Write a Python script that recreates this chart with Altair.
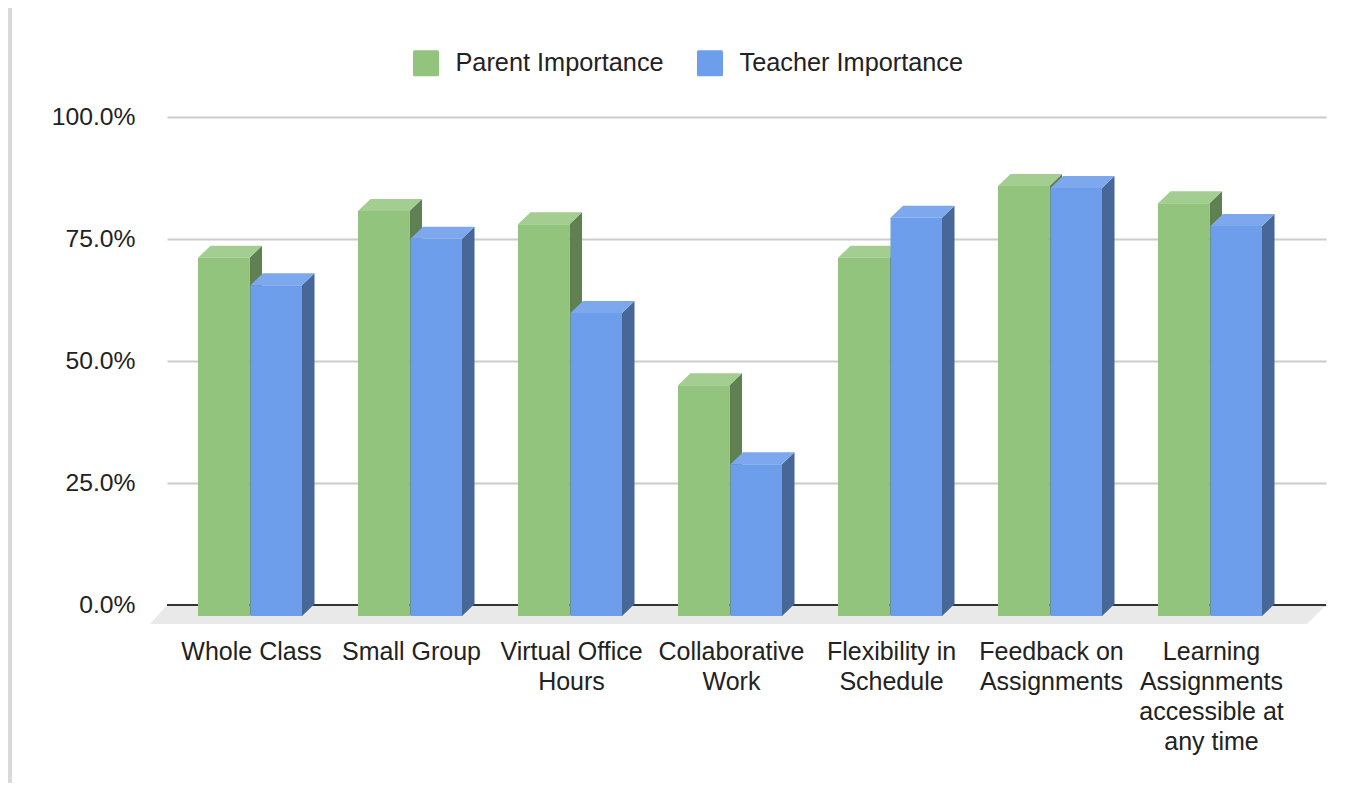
import json
import altair as alt
import pandas as pd

categories = ["Whole Class", "Small Group", "Virtual Office Hours", "Collaborative Work",
              "Flexibility in Schedule", "Feedback on Assignments",
              "Learning Assignments accessible at any time"]
label_lines = [["Whole Class"], ["Small Group"], ["Virtual Office", "Hours"], ["Collaborative", "Work"],
               ["Flexibility in", "Schedule"], ["Feedback on", "Assignments"],
               ["Learning", "Assignments", "accessible at", "any time"]]
parent = [73.4, 83.0, 80.3, 47.3, 73.4, 88.1, 84.6]
teacher = [67.8, 77.3, 62.1, 31.1, 81.6, 87.7, 79.9]
series = ["Parent Importance", "Teacher Importance"]
front_colors = ["#93C47D", "#6D9EEB"]
side_colors = ["#5F8051", "#476799"]
top_colors = ["#A3CD91", "#7DA8EE"]

PW, PH = 1159, 488          # plot size
PX = 160.0                  # pixels per category
PY = PH / 100.0             # pixels per percent
DX = 12.5 / PX              # depth, x
DY = 12 / PY                # depth, y
BW = 51.5 / PX              # bar width
FRONT = -11 / PY            # front plane floor
X0 = -84 / PX
X1 = (PW - 84) / PX

xs = alt.Scale(domain=[X0, X1], nice=False, zero=False)
ys = alt.Scale(domain=[0, 100], nice=False, zero=False)

y_axis = alt.Axis(values=[0, 25, 50, 75, 100], labelExpr="format(datum.value,'.1f')+'%'",
                  domain=False, ticks=False, grid=True, gridColor="#CCCCCC", gridWidth=2,
                  labelFontSize=24.7, labelFont="Liberation Sans", labelColor="#222222", labelPadding=32,
                  title=None)
x_axis = alt.Axis(values=list(range(7)), labelExpr=json.dumps(label_lines) + "[datum.value]",
                  domain=False, ticks=False, grid=False, labelAngle=0, labelAlign="center",
                  labelBaseline="top", labelFontSize=25, labelFont="Liberation Sans",
                  labelColor="#222222", labelLineHeight=30, labelPadding=34.5,
                  labelOverlap=False, labelBound=False, labelFlush=False, title=None)

X = lambda f: alt.X(f, type="quantitative", scale=xs, axis=x_axis)
Y = lambda f: alt.Y(f, type="quantitative", scale=ys, axis=y_axis)

front, side, top = [], [], []
for s, vals in enumerate([parent, teacher]):
    for i, v in enumerate(vals):
        x0 = i - 53 / PX if s == 0 else i - 0.5 / PX
        x1 = x0 + BW
        y1 = FRONT + v
        front.append(dict(cat=categories[i], series=series[s], x0=x0, x1=x1, y0=FRONT, y1=y1, s=s))
        side.append(dict(cat=categories[i], s=s, x=x1, lo=FRONT, hi=y1))
        side.append(dict(cat=categories[i], s=s, x=x1 + DX, lo=FRONT + DY, hi=y1 + DY))
        top.append(dict(cat=categories[i], s=s, a=x0, b=x1, y=y1))
        top.append(dict(cat=categories[i], s=s, a=x0 + DX, b=x1 + DX, y=y1 + DY))
front, side, top = pd.DataFrame(front), pd.DataFrame(side), pd.DataFrame(top)

floor = pd.DataFrame([
    dict(y=-19 / PY, a=X0 - 17 / PX, b=X1 - 19 / PX),
    dict(y=0.0, a=X0, b=X1),
])
base = pd.DataFrame([dict(a=X0, b=X1, y=0.0)])

floor_layer = alt.Chart(floor).mark_area(orient="horizontal", color="#E9E9E9").encode(
    x=X("a"), x2="b", y=Y("y"))
zero_line = alt.Chart(base).mark_rule(color="#333333", strokeWidth=2).encode(
    x=X("a"), x2="b", y=Y("y"))
strip = alt.Chart(base).mark_rect(color="#D9D9D9").encode(
    x=alt.value(-159), x2=alt.value(-155), y=alt.value(-109), y2=alt.value(678))

layers = [floor_layer, zero_line, strip]
rounded = ("M-0.88,-1 L0.88,-1 Q1,-1 1,-0.88 L1,0.88 Q1,1 0.88,1 "
           "L-0.88,1 Q-1,1 -1,0.88 L-1,-0.88 Q-1,-1 -0.88,-1 Z")
for s in range(2):
    layers.append(alt.Chart(side[side.s == s]).mark_area(orient="vertical", color=side_colors[s]).encode(
        x=X("x"), y=Y("lo"), y2="hi", detail="cat:N"))
    layers.append(alt.Chart(top[top.s == s]).mark_area(orient="horizontal", color=top_colors[s]).encode(
        x=X("a"), x2="b", y=Y("y"), detail="cat:N"))
    layers.append(alt.Chart(front[front.s == s]).mark_rect().encode(
        x=X("x0"), x2="x1", y=Y("y0"), y2="y1",
        color=alt.Color("series:N", scale=alt.Scale(domain=series, range=front_colors),
                        legend=alt.Legend(orient="none", legendX=246, legendY=-67, direction="horizontal",
                                          columns=2, title=None, symbolType=rounded, symbolSize=676,
                                          symbolStrokeWidth=0, labelFontSize=25.3, labelFont="Liberation Sans",
                                          labelColor="#222222", labelOffset=16.5, columnPadding=33,
                                          labelLimit=400, padding=0))))

chart = alt.layer(*layers).properties(
    width=PW, height=PH,
    padding=dict(left=159, top=109, right=27, bottom=178),
    autosize=alt.AutoSizeParams(type="none"),
).configure_view(stroke=None)

chart.save("out.html", embed_options={"renderer": "svg", "actions": False})
